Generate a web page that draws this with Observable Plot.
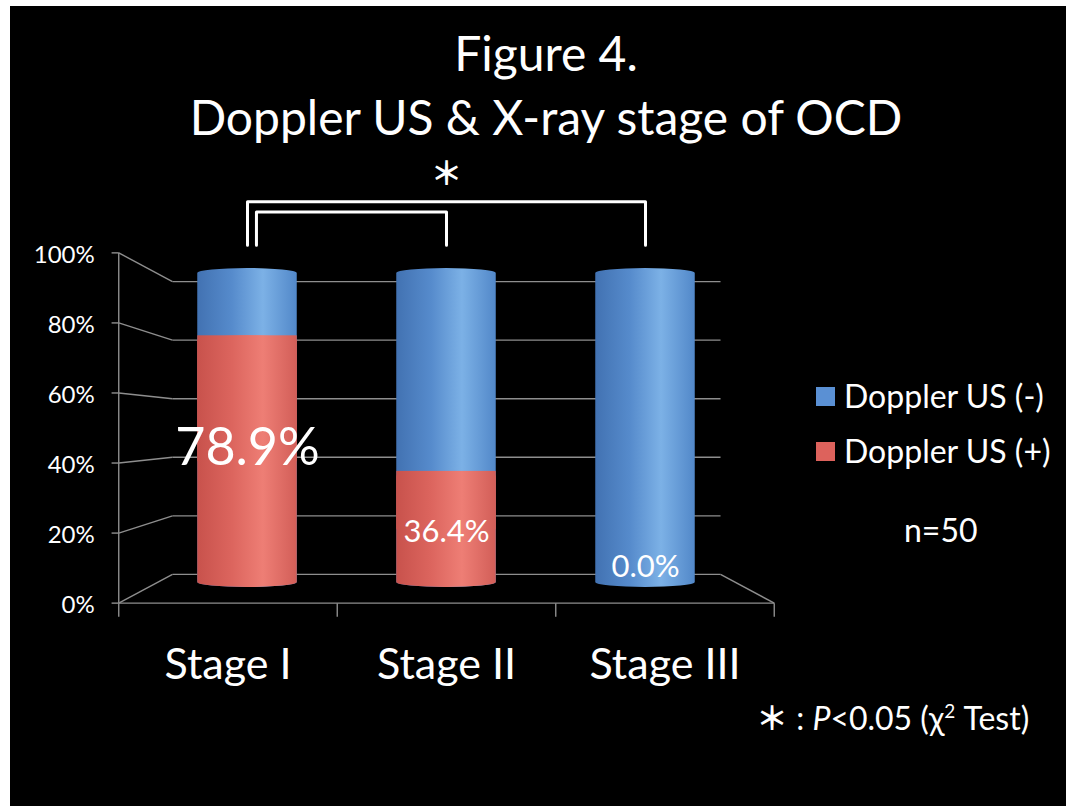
<!DOCTYPE html>
<html>
<head>
<meta charset="utf-8">
<script src="https://cdn.jsdelivr.net/npm/d3@7"></script>
<script src="https://cdn.jsdelivr.net/npm/@observablehq/plot@0.6"></script>
<style>
  html, body { margin: 0; padding: 0; background: #fff; }
  #wrap { position: absolute; left: 10px; top: 6px; width: 1056px; height: 800px; background: #000; overflow: hidden;
          font-family: Lato, "Noto Sans", "Noto Sans CJK JP", sans-serif; color: #fff; }
  #title { height: 144px; box-sizing: border-box; padding-top: 15px; padding-left: 16px; text-align: center; font-size: 48px; line-height: 64px; }
  #chart { position: absolute; left: 0; top: 144px; }
  .leg { position: absolute; font-size: 32px; line-height: 34px; white-space: nowrap; }
  .sw { position: absolute; width: 19px; height: 19px; }
</style>
</head>
<body>
<div id="wrap">
  <div id="title"></div>
  <div id="chart"></div>
  <div id="legend"></div>
  <div id="note" class="leg"></div>
</div>
<script>
// ---------- data ----------
const titleLines = ["Figure 4.", "Doppler US & X-ray stage of OCD"];
const stages = ["Stage I", "Stage II", "Stage III"];
const positive = [78.9, 36.4, 0.0];     // Doppler US (+) share, %
const negative = [21.1, 63.6, 100.0];   // Doppler US (-) share, %
const valueLabels = ["78.9%", "36.4%", "0.0%"];
const yTicks = [0, 20, 40, 60, 80, 100];
const yTickLabels = ["0%", "20%", "40%", "60%", "80%", "100%"];
const seriesNames = ["Doppler US (-)", "Doppler US (+)"];
const comparisons = [{from: 0, to: 2}, {from: 0, to: 1}];
const sampleText = "n=50";
const sigMark = "＊";

// ---------- layout ----------
document.getElementById("title").innerHTML = titleLines.join("<br>");

const BLUE = "#5a90d4", RED = "#dd625c";
// simple perspective: depth factor k around a centre (1, 50)
const KF = 1.098, KB = 0.918, CX = 1, CY = 50;
const P = (xw, v, k) => ({x: CX + k * (xw - CX), y: CY + k * (v - CY)});
const x0 = -0.5, x1 = stages.length - 0.5;

const segs = [];
yTicks.forEach(t => {
  const fb = P(x0, t, KF), bb = P(x0, t, KB), br = P(x1, t, KB);
  segs.push({x1: fb.x - 0.036, y1: fb.y, x2: fb.x, y2: fb.y});   // front tick
  segs.push({x1: fb.x, y1: fb.y, x2: bb.x, y2: bb.y});            // side wall
  segs.push({x1: bb.x, y1: bb.y, x2: br.x, y2: br.y});            // back wall grid
});
{
  const a = P(x0, 0, KF), b = P(x0, 100, KF), c = P(x1, 0, KF), d = P(x1, 0, KB);
  segs.push({x1: a.x, y1: a.y, x2: b.x, y2: b.y});
  segs.push({x1: a.x, y1: a.y, x2: c.x, y2: c.y});
  segs.push({x1: c.x, y1: c.y, x2: d.x, y2: d.y});
  for (let i = 0; i <= stages.length; i++) {
    const p = P(i - 0.5, 0, KF);
    segs.push({x1: p.x, y1: p.y, x2: p.x, y2: p.y - 4.3});
  }
}

const bars = stages.map((s, i) => ({i, stage: s, pos: positive[i], total: positive[i] + negative[i]}));

// significance brackets
const levels = [120.9, 117.7];
const base = 107.3;
const bracketPaths = comparisons.map((c, j) => {
  const l = c.from + (j === 0 ? 0 : 0.045);
  return [{x: l, y: base}, {x: l, y: levels[j]}, {x: c.to, y: levels[j]}, {x: c.to, y: base}].map(p => ({...p, j}));
}).flat();

const grey = "#8e8e8e";
const svg = Plot.plot({
  width: 1056,
  height: 656,
  margin: 0,
  style: {background: "transparent", color: "#fff", fontFamily: "Lato, 'Noto Sans', sans-serif", overflow: "visible"},
  x: {type: "linear", domain: [0, 2], range: [237, 635], axis: null},
  y: {domain: [0, 100], range: [437, 118], axis: null},
  marks: [
    Plot.link(segs, {x1: "x1", y1: "y1", x2: "x2", y2: "y2", stroke: grey, strokeWidth: 1.4}),
    Plot.rect(bars, {x1: d => d.i - 0.25, x2: d => d.i + 0.25, y1: 0, y2: "total", fill: "url(#gBlue)", rx: 50, ry: 5}),
    Plot.rect(bars.filter(d => d.pos > 0), {x1: d => d.i - 0.25, x2: d => d.i + 0.25, y1: 0, y2: "pos", fill: "url(#gRed)", rx: 50, ry: 5}),
    Plot.rect(bars.filter(d => d.pos > 0), {x1: d => d.i - 0.25, x2: d => d.i + 0.25, y1: d => d.pos / 2, y2: "pos", fill: "url(#gRed)"}),
    // value labels
    Plot.text(bars.filter(d => d.i === 0), {x: "i", y: d => d.pos / 2, text: d => valueLabels[d.i], dy: -13, fontSize: 52, fill: "#fff"}),
    Plot.text(bars.filter(d => d.i > 0), {x: "i", y: d => Math.max(d.pos / 2, 7.3), text: d => valueLabels[d.i], dy: 3, fontSize: 31, fill: "#fff"}),
    // axis labels
    Plot.text(yTicks, {x: t => P(x0, t, KF).x, y: t => P(x0, t, KF).y, text: (t, i) => yTickLabels[i], textAnchor: "end", dx: -24, dy: 2, fontSize: 24, fill: "#fff"}),
    Plot.text(stages, {x: (d, i) => P(i, 0, KF).x, y: (d, i) => P(i, 0, KF).y, text: d => d, dy: 62, fontSize: 43, fill: "#fff"}),
    // brackets
    Plot.line(bracketPaths, {x: "x", y: "y", z: "j", stroke: "#fff", strokeWidth: 3, curve: "linear"}),
    Plot.text([sigMark], {x: 1, y: 129.4, text: d => d, fontSize: 32, fontWeight: "bold", fill: "#fff", fontFamily: "'Noto Sans CJK JP'"})
  ]
});

const ns = "http://www.w3.org/2000/svg";
const defs = document.createElementNS(ns, "defs");
function grad(id, stops) {
  const g = document.createElementNS(ns, "linearGradient");
  g.setAttribute("id", id);
  g.setAttribute("x1", "0"); g.setAttribute("x2", "1"); g.setAttribute("y1", "0"); g.setAttribute("y2", "0");
  stops.forEach(([o, c]) => {
    const s = document.createElementNS(ns, "stop");
    s.setAttribute("offset", o); s.setAttribute("stop-color", c);
    g.appendChild(s);
  });
  defs.appendChild(g);
}
grad("gBlue", [["0", "#4272b2"], ["0.35", "#568bcc"], ["0.66", "#7cb1e6"], ["1", "#5288c9"]]);
grad("gRed", [["0", "#c8524c"], ["0.35", "#dc655e"], ["0.66", "#ee7e75"], ["1", "#d25e58"]]);
svg.insertBefore(defs, svg.firstChild);
document.getElementById("chart").appendChild(svg);

// legend (HTML, right of the plot)
const legend = document.getElementById("legend");
[[BLUE, seriesNames[0], 381], [RED, seriesNames[1], 436]].forEach(([c, t, top]) => {
  const sw = document.createElement("div");
  sw.className = "sw"; sw.style.background = c; sw.style.left = "806px"; sw.style.top = top + "px";
  legend.appendChild(sw);
  const lb = document.createElement("div");
  lb.className = "leg"; lb.textContent = t; lb.style.left = "834px"; lb.style.top = (top - 8) + "px";
  legend.appendChild(lb);
});
const n = document.createElement("div");
n.className = "leg"; n.textContent = sampleText; n.style.left = "894px"; n.style.top = "507px";
legend.appendChild(n);

const note = document.getElementById("note");
note.style.left = "746px"; note.style.top = "693px";
note.innerHTML = '<span style="font-family:\'Noto Sans CJK JP\';font-weight:bold">' + sigMark + '</span> : <i>P</i>&lt;0.05 (χ<sup style="font-size:19px;vertical-align:12px;line-height:0">2</sup> Test)';
</script>
</body>
</html>
